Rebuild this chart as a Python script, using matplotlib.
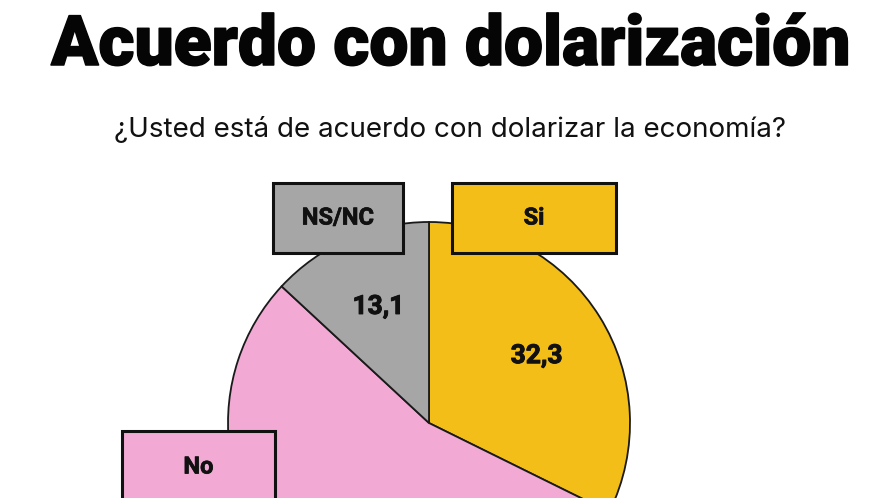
import matplotlib
matplotlib.use("Agg")
import matplotlib.pyplot as plt
import matplotlib.patheffects as pe
from matplotlib.patches import Rectangle

# data
categories = ["Si", "No", "NS/NC"]
values = [32.3, 54.6, 13.1]
colors = ["#F4BE18", "#F2A9D4", "#A6A6A6"]

title = "Acuerdo con dolarización"
subtitle = "¿Usted está de acuerdo con dolarizar la economía?"

W, H = 887, 498
fig = plt.figure(figsize=(W / 100, H / 100), dpi=100)
ax = fig.add_axes([0, 0, 1, 1])

# pie in pixel coordinates (y measured from top, converted)
cx, cy, r = 429, 423, 201
wedges, texts, autotexts = ax.pie(
    values, colors=colors, startangle=90, counterclock=False,
    center=(cx, H - cy), radius=r,
    wedgeprops=dict(edgecolor="#1a1a1a", linewidth=1.3),
    autopct=lambda p: f"{p:.1f}".replace(".", ","), pctdistance=0.63,
    textprops=dict(fontsize=19, fontweight="bold", family="Roboto", color="#111111"),
)
# the "No" value falls below the visible area in the reference
autotexts[1].set_visible(False)
for t in autotexts:
    t.set_path_effects([pe.withStroke(linewidth=0.7, foreground="#111111")])
ax.set_xlim(0, W)
ax.set_ylim(0, H)
ax.set_aspect("equal")
ax.axis("off")

# label boxes (x0, y_top, width, height) in pixels from top-left
boxes = {"Si": (452, 183, 164, 70), "NS/NC": (273, 183, 130, 70), "No": (122, 431, 153, 72)}
for cat, col in zip(categories, colors):
    x0, y0, bw, bh = boxes[cat]
    ax.add_patch(Rectangle((x0, H - y0 - bh), bw, bh, facecolor=col,
                           edgecolor="#111111", linewidth=2.2, zorder=5))
    ax.text(x0 + bw / 2, H - y0 - bh / 2, cat, ha="center", va="center",
            fontsize=17, fontweight="bold", family="Roboto", color="#111111", zorder=6,
            path_effects=[pe.withStroke(linewidth=0.5, foreground="#111111")])

fig.text(451 / W, 1 - 65 / H, title, ha="center", va="baseline",
         fontsize=50, fontweight="black", family="Roboto", color="#050505",
         path_effects=[pe.withStroke(linewidth=1.1, foreground="#050505")])
fig.text(450 / W, 1 - 137 / H, subtitle, ha="center", va="baseline",
         fontsize=20, family="Inter", color="#111111")

fig.savefig("out.png", dpi=100, facecolor="white")
